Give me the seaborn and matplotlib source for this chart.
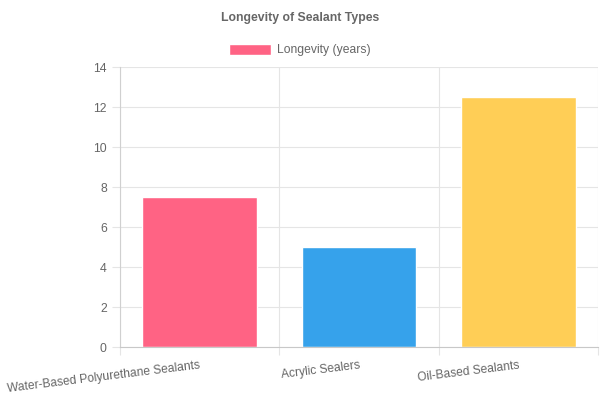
import matplotlib
matplotlib.use("Agg")
import matplotlib.pyplot as plt
import matplotlib.patches as mpatches
import pandas as pd
import seaborn as sns

# ── Data ─────────────────────────────────────────────────────────────────────
SEALANTS  = ["Water-Based Polyurethane Sealants", "Acrylic Sealers", "Oil-Based Sealants"]
LONGEVITY = [7.5, 5.0, 12.5]
COLORS    = ["#FF6384", "#36A2EB", "#FFCE56"]
Y_TICKS   = [0, 2, 4, 6, 8, 10, 12, 14]

TEXT_GREY = "#666666"
GRID_GREY = "#e5e5e5"

sns.set_theme(style="white")
plt.rcParams["font.family"] = ["Liberation Sans", "DejaVu Sans"]

df = pd.DataFrame({"sealant": SEALANTS, "years": LONGEVITY})

fig = plt.figure(figsize=(6, 4), dpi=100)
ax = fig.add_axes([0.2, 0.1325, 0.7967, 0.70])

sns.barplot(data=df, x="sealant", y="years", hue="sealant",
            palette=COLORS, legend=False, width=0.72, saturation=1, ax=ax)

ax.set_xlim(-0.5, len(SEALANTS) - 0.5)
ax.set_ylim(0, 14)
ax.set_yticks(Y_TICKS)
ax.set_xlabel("")
ax.set_ylabel("")

# grid: horizontal at each tick, vertical at category boundaries
ax.set_xticks([i - 0.5 for i in range(len(SEALANTS))] + [len(SEALANTS) - 0.5], minor=True)
ax.grid(axis="y", which="major", color=GRID_GREY, linewidth=0.8)
ax.grid(axis="x", which="minor", color=GRID_GREY, linewidth=0.8)
ax.set_axisbelow(True)

for side in ["top", "right"]:
    ax.spines[side].set_visible(False)
ax.spines["left"].set_color("#d0d0d0")
ax.spines["bottom"].set_color("#c8c8c8")
ax.spines["left"].set_linewidth(0.8)
ax.spines["bottom"].set_linewidth(0.8)

ax.tick_params(axis="y", which="major", length=5.5, width=0.8, color=GRID_GREY,
               labelsize=8.8, labelcolor=TEXT_GREY, pad=4, left=True)
ax.tick_params(axis="x", which="minor", length=5.5, width=0.8, color=GRID_GREY, bottom=True)
ax.tick_params(axis="x", which="major", length=0, labelsize=8.65,
               labelcolor=TEXT_GREY, pad=9)
plt.setp(ax.get_xticklabels(), rotation=7, ha="right", va="top", rotation_mode="anchor")

fig.suptitle("Longevity of Sealant Types", x=0.5, y=0.97, fontsize=8.8,
             fontweight="bold", color=TEXT_GREY)

handle = mpatches.Patch(facecolor=COLORS[0], edgecolor="white", label="Longevity (years)")
fig.legend(handles=[handle], loc="center", bbox_to_anchor=(0.5, 0.875), frameon=False,
           fontsize=8.7, labelcolor=TEXT_GREY, handlelength=3.5, handleheight=1.0,
           handletextpad=0.5)

fig.savefig("out.png", dpi=100)
